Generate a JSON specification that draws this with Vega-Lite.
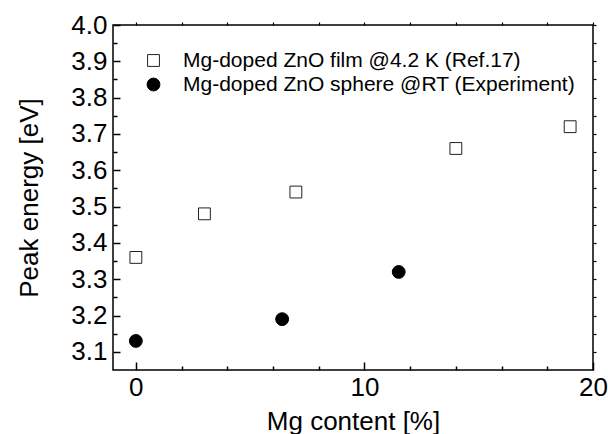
{
  "$schema": "https://vega.github.io/schema/vega-lite/v6.json",
  "width": 480,
  "height": 345,
  "autosize": "none",
  "padding": {"left": 113, "top": 25, "right": 15, "bottom": 64},
  "background": "white",
  "config": {
    "font": "Liberation Sans",
    "view": {"stroke": "black", "strokeWidth": 1.5},
    "axis": {"grid": false, "domain": false, "labelColor": "black", "titleColor": "black", "tickColor": "black", "titleFontWeight": "normal"},
    "legend": {
      "title": null,
      "labelFontSize": 21,
      "labelColor": "black",
      "labelLimit": 0,
      "labelOffset": 19,
      "rowPadding": 2,
      "padding": 0,
      "symbolStrokeWidth": 1
    }
  },
  "data": {
    "values": [
      {"mg": 0, "energy": 3.36, "series": "Mg-doped ZnO film @4.2 K (Ref.17)"},
      {"mg": 3, "energy": 3.48, "series": "Mg-doped ZnO film @4.2 K (Ref.17)"},
      {"mg": 7, "energy": 3.54, "series": "Mg-doped ZnO film @4.2 K (Ref.17)"},
      {"mg": 14, "energy": 3.66, "series": "Mg-doped ZnO film @4.2 K (Ref.17)"},
      {"mg": 19, "energy": 3.72, "series": "Mg-doped ZnO film @4.2 K (Ref.17)"},
      {"mg": 0, "energy": 3.13, "series": "Mg-doped ZnO sphere @RT (Experiment)"},
      {"mg": 6.4, "energy": 3.19, "series": "Mg-doped ZnO sphere @RT (Experiment)"},
      {"mg": 11.5, "energy": 3.32, "series": "Mg-doped ZnO sphere @RT (Experiment)"}
    ]
  },
  "resolve": {"axis": {"x": "independent", "y": "independent"}},
  "layer": [
    {
      "mark": {"type": "point", "strokeWidth": 1, "opacity": 1},
      "encoding": {
        "x": {
          "field": "mg", "type": "quantitative",
          "scale": {"domain": [-1, 20], "nice": false, "zero": false},
          "axis": {
            "orient": "bottom",
            "offset": -8,
            "tickSize": 8,
            "tickWidth": 1.5,
            "values": [0, 10, 20],
            "title": "Mg content [%]",
            "titleFontSize": 26,
            "titlePadding": 8,
            "labelFontSize": 26,
            "labelPadding": 4,
            "labelFlush": false,
            "labelOverlap": false
          }
        },
        "y": {
          "field": "energy", "type": "quantitative",
          "scale": {"domain": [3.05, 4.0], "nice": false, "zero": false},
          "axis": {
            "orient": "left",
            "offset": -7,
            "tickSize": 7,
            "tickWidth": 1.5,
            "values": [3.1, 3.2, 3.3, 3.4, 3.5, 3.6, 3.7, 3.8, 3.9, 4.0],
            "format": ".1f",
            "title": "Peak energy [eV]",
            "titleFontSize": 26,
            "titlePadding": 28,
            "labelFontSize": 26,
            "labelPadding": 6,
            "labelFlush": false,
            "labelOverlap": false
          }
        },
        "shape": {
          "field": "series", "type": "nominal",
          "scale": {"domain": ["Mg-doped ZnO film @4.2 K (Ref.17)", "Mg-doped ZnO sphere @RT (Experiment)"], "range": ["square", "circle"]},
          "legend": {"orient": "none", "legendX": 30, "legendY": 25}
        },
        "fill": {
          "field": "series", "type": "nominal",
          "scale": {"domain": ["Mg-doped ZnO film @4.2 K (Ref.17)", "Mg-doped ZnO sphere @RT (Experiment)"], "range": ["white", "black"]},
          "legend": {"orient": "none", "legendX": 30, "legendY": 25}
        },
        "stroke": {
          "field": "series", "type": "nominal",
          "scale": {"domain": ["Mg-doped ZnO film @4.2 K (Ref.17)", "Mg-doped ZnO sphere @RT (Experiment)"], "range": ["#222222", "black"]},
          "legend": {"orient": "none", "legendX": 30, "legendY": 25}
        },
        "size": {
          "field": "series", "type": "nominal",
          "scale": {"domain": ["Mg-doped ZnO film @4.2 K (Ref.17)", "Mg-doped ZnO sphere @RT (Experiment)"], "range": [140, 165]},
          "legend": {"orient": "none", "legendX": 30, "legendY": 25}
        }
      }
    },
    {
      "mark": {"type": "point", "opacity": 0},
      "encoding": {
        "x": {
          "field": "mg", "type": "quantitative",
          "axis": {
            "orient": "bottom",
            "offset": -4,
            "tickSize": 4,
            "tickWidth": 1.5,
            "values": [2, 4, 6, 8, 12, 14, 16, 18],
            "labels": false,
            "title": null
          }
        },
        "y": {
          "field": "energy", "type": "quantitative",
          "axis": {
            "orient": "left",
            "offset": -4,
            "tickSize": 4,
            "tickWidth": 1.5,
            "values": [3.15, 3.25, 3.35, 3.45, 3.55, 3.65, 3.75, 3.85, 3.95],
            "labels": false,
            "title": null
          }
        }
      }
    },
    {
      "mark": {"type": "point", "opacity": 0},
      "encoding": {
        "x": {
          "field": "mg", "type": "quantitative",
          "axis": {
            "orient": "top",
            "title": null,
            "labels": false,
            "values": [0, 2, 4, 6, 8, 10, 12, 14, 16, 18, 20],
            "tickSize": 3,
            "tickWidth": 1.2
          }
        },
        "y": {
          "field": "energy", "type": "quantitative",
          "axis": {
            "orient": "right",
            "title": null,
            "labels": false,
            "values": [3.1, 3.15, 3.2, 3.25, 3.3, 3.35, 3.4, 3.45, 3.5, 3.55, 3.6, 3.65, 3.7, 3.75, 3.8, 3.85, 3.9, 3.95, 4.0],
            "tickSize": 3,
            "tickWidth": 1.2
          }
        }
      }
    }
  ]
}
